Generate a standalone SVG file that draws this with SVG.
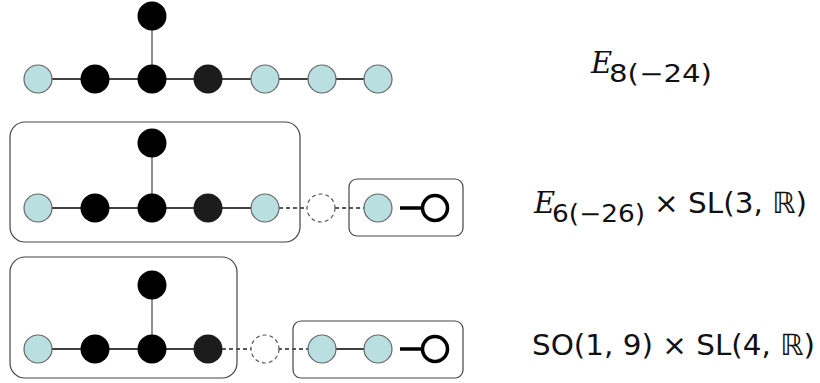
<svg xmlns="http://www.w3.org/2000/svg" width="820" height="383" viewBox="0 0 820 383">
<style>
.b{fill:#b9dfe0;stroke:#666;stroke-width:1.2}
.k{fill:#000}
.d{fill:#1c1c1c}
.e{stroke:#000;stroke-width:1.5;fill:none}
.v{stroke:#444;stroke-width:1.2;fill:none}
.dash{stroke:#222;stroke-width:1.3;stroke-dasharray:4 3;fill:none}
.dc{fill:#fff;stroke:#555;stroke-width:1.2;stroke-dasharray:4 3}
.box{fill:none;stroke:#444;stroke-width:1.2}
.thick{stroke:#000;stroke-width:3.5;fill:none}
.open{fill:#fff;stroke:#000;stroke-width:3.5}
.lab{font-family:"DejaVu Sans","Liberation Sans",sans-serif;fill:#111}
.it{font-family:"DejaVu Serif","Liberation Serif",serif;font-style:italic;fill:#111}
</style>
<g id="connectors">
<line class="e" x1="38" y1="79" x2="378" y2="79"/>
<line class="v" x1="152" y1="16" x2="152" y2="79"/>
<line class="e" x1="38" y1="208" x2="265" y2="208"/>
<line class="v" x1="152" y1="143" x2="152" y2="208"/>
<line class="dash" x1="265" y1="208" x2="378" y2="208"/>
<line class="thick" x1="400" y1="208" x2="422" y2="208"/>
<line class="e" x1="38" y1="349" x2="208" y2="349"/>
<line class="v" x1="152" y1="285" x2="152" y2="349"/>
<line class="dash" x1="208" y1="349" x2="322" y2="349"/>
<line class="e" x1="322" y1="349" x2="378" y2="349"/>
<line class="thick" x1="400" y1="349" x2="422" y2="349"/>
</g>
<g id="boxes">
<rect class="box" x="10" y="122" width="290" height="120" rx="15"/>
<rect class="box" x="349" y="179" width="114" height="57" rx="8"/>
<rect class="box" x="10" y="257" width="227" height="121" rx="15"/>
<rect class="box" x="293" y="321" width="170" height="57" rx="8"/>
</g>
<g id="row1">
<circle class="k" cx="152" cy="16" r="14.5"/>
<circle class="b" cx="38" cy="79" r="14"/>
<circle class="k" cx="95" cy="79" r="14.5"/>
<circle class="k" cx="152" cy="79" r="14.5"/>
<circle class="d" cx="208" cy="79" r="14.5"/>
<circle class="b" cx="265" cy="79" r="14"/>
<circle class="b" cx="322" cy="79" r="14"/>
<circle class="b" cx="378" cy="79" r="14"/>
</g>
<g id="row2">
<circle class="k" cx="152" cy="143" r="14.5"/>
<circle class="b" cx="38" cy="208" r="14"/>
<circle class="k" cx="95" cy="208" r="14.5"/>
<circle class="k" cx="152" cy="208" r="14.5"/>
<circle class="d" cx="208" cy="208" r="14.5"/>
<circle class="b" cx="265" cy="208" r="14"/>
<circle class="dc" cx="321" cy="208" r="14"/>
<circle class="b" cx="378" cy="208" r="14"/>
<circle class="open" cx="435" cy="208" r="12.5"/>
</g>
<g id="row3">
<circle class="k" cx="152" cy="285" r="14.5"/>
<circle class="b" cx="38" cy="349" r="14"/>
<circle class="k" cx="95" cy="349" r="14.5"/>
<circle class="k" cx="152" cy="349" r="14.5"/>
<circle class="d" cx="208" cy="349" r="14.5"/>
<circle class="dc" cx="265" cy="349" r="14"/>
<circle class="b" cx="322" cy="349" r="14"/>
<circle class="b" cx="378" cy="349" r="14"/>
<circle class="open" cx="435" cy="349" r="12.5"/>
</g>
<g id="labels">
<text class="it" x="591" y="73" font-size="29">E</text>
<text class="lab" x="609" y="82" font-size="24" textLength="103" lengthAdjust="spacingAndGlyphs">8(−24)</text>
<text class="it" x="534" y="213" font-size="29">E</text>
<text class="lab" x="552" y="222" font-size="24" textLength="93" lengthAdjust="spacingAndGlyphs">6(−26)</text>
<text class="lab" x="654" y="213" font-size="29" textLength="153" lengthAdjust="spacingAndGlyphs">× SL(3, ℝ)</text>
<text class="lab" x="532" y="355" font-size="29" textLength="283" lengthAdjust="spacingAndGlyphs">SO(1, 9) × SL(4, ℝ)</text>
</g>
</svg>
